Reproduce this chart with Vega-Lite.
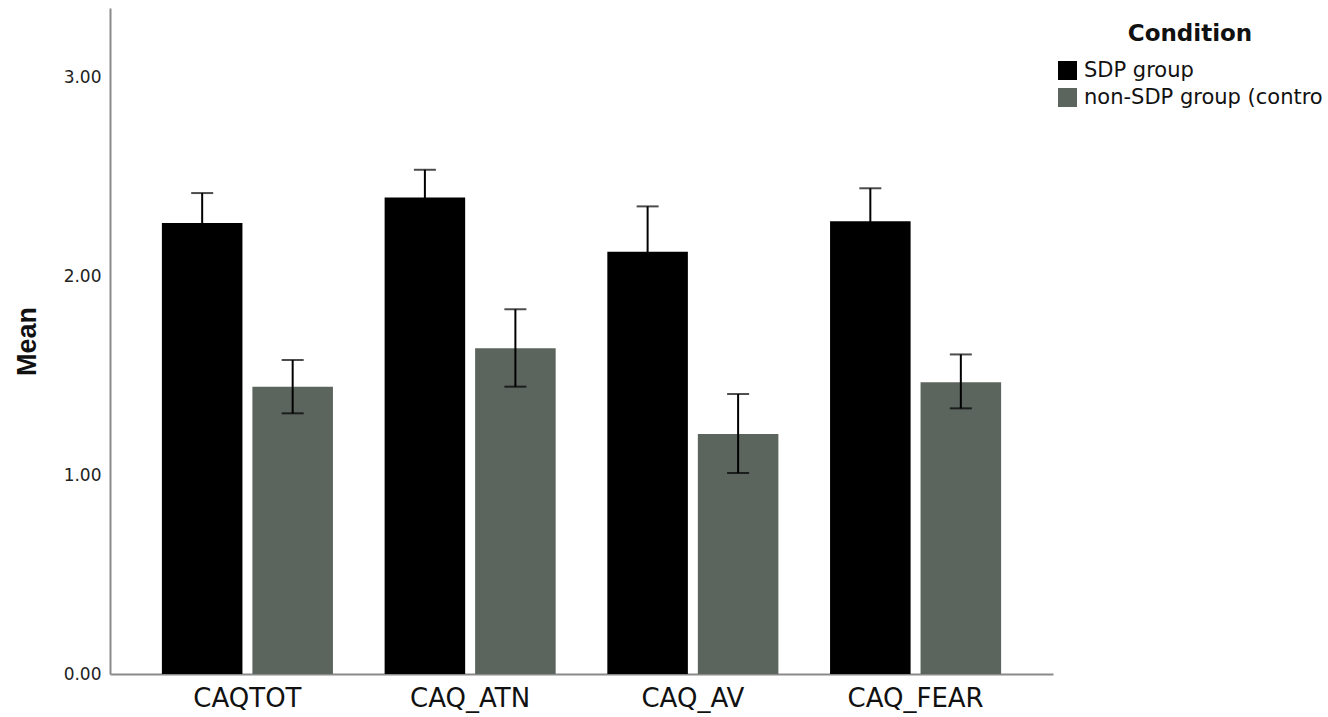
{
  "$schema": "https://vega.github.io/schema/vega-lite/v6.json",
  "width": 943,
  "height": 666,
  "autosize": "none",
  "padding": {"left": 110, "top": 8, "right": 275, "bottom": 43},
  "background": "white",
  "data": {
    "values": [
      {"scale": "CAQTOT", "group": "SDP group", "mean": 2.266, "lo": 2.115, "hi": 2.417},
      {"scale": "CAQTOT", "group": "non-SDP group (contro", "mean": 1.444, "lo": 1.310, "hi": 1.578},
      {"scale": "CAQ_ATN", "group": "SDP group", "mean": 2.395, "lo": 2.256, "hi": 2.534},
      {"scale": "CAQ_ATN", "group": "non-SDP group (contro", "mean": 1.637, "lo": 1.444, "hi": 1.833},
      {"scale": "CAQ_AV", "group": "SDP group", "mean": 2.122, "lo": 1.894, "hi": 2.350},
      {"scale": "CAQ_AV", "group": "non-SDP group (contro", "mean": 1.206, "lo": 1.010, "hi": 1.407},
      {"scale": "CAQ_FEAR", "group": "SDP group", "mean": 2.275, "lo": 2.109, "hi": 2.441},
      {"scale": "CAQ_FEAR", "group": "non-SDP group (contro", "mean": 1.466, "lo": 1.335, "hi": 1.606}
    ]
  },
  "encoding": {
    "x": {
      "field": "scale",
      "type": "nominal",
      "sort": ["CAQTOT", "CAQ_ATN", "CAQ_AV", "CAQ_FEAR"],
      "scale": {"paddingInner": 0.232, "paddingOuter": 0.233},
      "axis": {
        "title": null,
        "labelAngle": 0,
        "labelFont": "DejaVu Sans",
        "labelFontSize": 26,
        "labelColor": "#111111",
        "labelPadding": 11,
        "ticks": false,
        "domainColor": "#8a8a8a",
        "domainWidth": 2
      }
    },
    "xOffset": {
      "field": "group",
      "type": "nominal",
      "sort": ["SDP group", "non-SDP group (contro"],
      "scale": {"paddingInner": 0.11, "paddingOuter": 0}
    }
  },
  "layer": [
    {
      "mark": {"type": "bar"},
      "encoding": {
        "y": {
          "field": "mean",
          "type": "quantitative",
          "scale": {"domain": [0, 3.347], "nice": false, "zero": true},
          "axis": {
            "title": "Mean",
            "titleFont": "Liberation Sans",
            "titleFontSize": 27,
            "titleFontWeight": "bold",
            "titleColor": "#111111",
            "titlePadding": 22,
            "values": [0, 1, 2, 3],
            "format": ".2f",
            "labelFont": "DejaVu Sans",
            "labelFontSize": 17,
            "labelColor": "#222222",
            "labelPadding": 9,
            "ticks": false,
            "grid": false,
            "domainColor": "#8a8a8a",
            "domainWidth": 2
          }
        },
        "color": {
          "field": "group",
          "type": "nominal",
          "sort": ["SDP group", "non-SDP group (contro"],
          "scale": {"domain": ["SDP group", "non-SDP group (contro"], "range": ["#000000", "#5c645e"]},
          "legend": {
            "title": "Condition",
            "orient": "none",
            "legendX": 947,
            "legendY": 15,
            "titleFont": "DejaVu Sans",
            "titleFontSize": 23,
            "titleFontWeight": "bold",
            "titleColor": "#111111",
            "titleAnchor": "middle",
            "titlePadding": 14,
            "labelFont": "DejaVu Sans",
            "labelFontSize": 21,
            "labelColor": "#111111",
            "labelOffset": 6,
            "labelLimit": 0,
            "symbolType": "square",
            "symbolSize": 361,
            "symbolStrokeWidth": 0,
            "rowPadding": 5
          }
        }
      }
    },
    {
      "mark": {"type": "rule", "color": "#000000", "strokeWidth": 2},
      "encoding": {
        "y": {"field": "lo", "type": "quantitative", "axis": {"title": "Mean"}},
        "y2": {"field": "hi"}
      }
    },
    {
      "mark": {"type": "tick", "color": "#000000", "thickness": 2, "size": 22},
      "encoding": {
        "y": {"field": "lo", "type": "quantitative", "axis": {"title": "Mean"}}
      }
    },
    {
      "mark": {"type": "tick", "color": "#000000", "thickness": 2, "size": 22},
      "encoding": {
        "y": {"field": "hi", "type": "quantitative", "axis": {"title": "Mean"}}
      }
    }
  ],
  "config": {"view": {"stroke": null}}
}
